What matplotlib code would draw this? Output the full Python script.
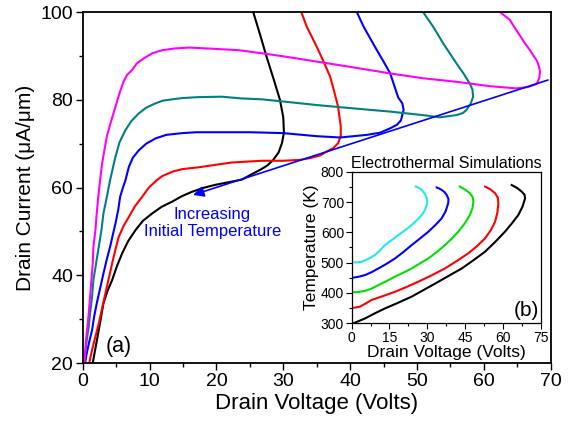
import matplotlib
matplotlib.use("Agg")
import matplotlib.pyplot as plt
from matplotlib.ticker import MultipleLocator

plt.rcParams['font.family'] = ['Liberation Sans', 'DejaVu Sans']

# main panel (a): drain current vs drain voltage, one curve per initial temperature
black_v = [1.5, 2.4, 3.1, 3.7, 4.4, 5.1, 5.9, 6.8, 7.9, 9.0, 10.4, 11.8, 13.4, 14.8, 16.3, 18.0, 19.8, 21.8, 23.8, 25.0, 26.5, 27.6, 28.5, 29.3, 29.8, 30.1, 30.0, 29.5, 28.5, 27.5, 26.5, 25.5]
black_i = [20.0, 27.5, 33.6, 36.4, 38.9, 42.0, 45.0, 47.8, 50.3, 52.4, 54.1, 55.6, 56.8, 58.0, 59.0, 59.9, 60.6, 61.2, 61.8, 62.8, 64.0, 65.0, 66.3, 68.0, 70.1, 72.5, 76.0, 80.0, 85.0, 89.8, 95.0, 100.0]

red_v = [0.9, 1.4, 1.9, 2.4, 2.9, 3.4, 3.9, 4.4, 4.9, 5.4, 6.1, 6.9, 7.8, 8.9, 9.9, 11.1, 11.9, 13.4, 14.9, 17.3, 20.0, 22.3, 26.8, 30.0, 32.5, 34.0, 35.5, 36.5, 37.5, 38.2, 38.6, 38.6, 38.2, 37.6, 37.0, 36.0, 35.0, 33.5, 32.7]
red_i = [19.5, 23.0, 26.0, 29.0, 32.5, 35.9, 39.3, 42.7, 45.9, 48.8, 51.2, 53.3, 55.7, 57.9, 60.0, 61.7, 62.6, 63.6, 64.2, 64.6, 65.2, 65.7, 66.1, 66.1, 66.3, 66.7, 67.3, 68.2, 69.0, 70.1, 71.8, 73.9, 78.4, 82.0, 85.3, 88.8, 92.1, 96.7, 100.0]

blue_v = [0.3, 0.6, 1.0, 1.4, 1.7, 2.1, 2.6, 3.1, 3.6, 4.1, 4.5, 4.9, 5.3, 5.6, 6.0, 6.4, 6.9, 7.5, 8.4, 9.5, 10.9, 12.5, 14.9, 17.0, 19.8, 25.0, 30.0, 35.0, 38.5, 42.5, 44.5, 46.0, 47.0, 47.6, 48.0, 47.8, 47.2, 46.6, 46.0, 45.0, 44.0, 43.0, 42.0, 41.0]
blue_i = [19.5, 22.2, 25.0, 27.5, 30.5, 33.6, 37.0, 40.4, 43.6, 46.5, 49.2, 51.8, 54.8, 57.9, 59.9, 61.7, 64.7, 66.8, 68.5, 70.0, 71.2, 72.0, 72.4, 72.6, 72.6, 72.6, 72.4, 71.7, 71.4, 72.0, 72.5, 73.5, 74.3, 75.3, 77.7, 79.2, 80.5, 83.2, 86.0, 88.7, 91.3, 94.0, 96.7, 100.0]

teal_v = [0.2, 0.6, 0.9, 1.1, 1.4, 1.6, 2.0, 2.4, 2.8, 3.1, 3.5, 3.8, 4.1, 4.5, 4.9, 5.5, 6.4, 7.3, 8.4, 9.5, 10.9, 12.0, 13.4, 15.0, 17.3, 20.8, 23.8, 26.8, 30.0, 35.0, 40.0, 46.0, 50.9, 53.4, 55.9, 56.9, 57.4, 58.0, 58.4, 58.3, 57.9, 57.0, 55.9, 54.9, 53.9, 52.4, 50.9]
teal_i = [19.5, 25.2, 28.3, 31.3, 35.1, 38.9, 42.7, 46.5, 50.3, 54.1, 57.0, 59.4, 61.7, 64.4, 67.0, 70.3, 73.1, 75.2, 76.9, 78.2, 79.2, 79.8, 80.1, 80.4, 80.6, 80.7, 80.3, 80.1, 79.6, 78.8, 78.1, 77.3, 76.5, 76.0, 76.5, 77.0, 77.7, 79.0, 80.7, 82.3, 83.7, 85.9, 88.3, 90.6, 92.9, 96.7, 100.0]

mag_v = [0.2, 0.5, 0.7, 0.9, 1.1, 1.3, 1.5, 1.6, 1.9, 2.1, 2.3, 2.6, 2.9, 3.6, 4.3, 4.9, 5.5, 6.1, 6.6, 7.4, 8.1, 9.1, 10.4, 11.9, 13.8, 15.9, 19.8, 23.3, 26.8, 30.0, 35.0, 40.0, 46.0, 50.9, 55.9, 60.9, 63.2, 64.9, 66.6, 67.9, 68.3, 68.4, 68.2, 67.9, 67.4, 66.9, 66.0, 65.2, 64.5, 63.9, 62.4]
mag_i = [19.5, 25.2, 28.2, 31.3, 35.1, 38.9, 42.7, 46.5, 50.3, 54.1, 57.5, 61.7, 65.5, 71.6, 75.4, 78.4, 81.5, 84.1, 85.6, 86.8, 88.3, 89.4, 90.6, 91.3, 91.7, 91.9, 91.6, 91.3, 90.6, 89.9, 88.7, 87.5, 86.0, 84.9, 84.1, 83.1, 82.8, 82.6, 82.9, 83.6, 85.0, 86.5, 87.8, 89.0, 90.1, 91.3, 93.2, 95.1, 96.7, 98.2, 100.0]

# arrow along the turning points
arrow_tail = (69.6, 84.5)
arrow_tip = (16.5, 58.3)

# inset (b): temperature vs drain voltage
in_cyan_v = [0.0, 2.0, 4.0, 6.5, 9.2, 11.2, 13.2, 15.8, 18.5, 21.2, 23.8, 26.0, 27.8, 29.0, 29.8, 30.0, 29.8, 29.0, 27.8, 26.5, 25.4]
in_cyan_t = [501, 501, 503, 512, 525, 540, 558, 574, 591, 607, 624, 641, 657, 673, 690, 700, 712, 727, 740, 747, 751]
in_blue_v = [0.0, 2.5, 5.3, 8.0, 10.6, 14.0, 17.2, 20.5, 23.8, 27.0, 30.4, 33.2, 35.7, 37.3, 38.3, 38.4, 37.7, 36.8, 35.7, 34.6, 33.7]
in_blue_t = [450, 453, 459, 469, 481, 497, 514, 535, 558, 579, 602, 624, 646, 670, 696, 710, 723, 733, 740, 745, 748]
in_green_v = [0.0, 2.5, 5.3, 8.0, 10.6, 14.0, 17.2, 20.5, 23.8, 27.0, 30.4, 33.8, 37.0, 39.8, 42.3, 44.9, 46.9, 47.9, 48.3, 48.0, 46.9, 45.0, 42.9]
in_green_t = [402, 403, 407, 415, 426, 440, 454, 467, 481, 497, 514, 535, 558, 580, 602, 630, 657, 680, 701, 716, 729, 741, 751]
in_red_v = [0.0, 1.6, 3.3, 5.5, 7.9, 12.5, 17.2, 21.8, 26.4, 31.7, 37.0, 41.8, 46.3, 49.8, 52.9, 55.2, 56.9, 57.8, 58.2, 58.0, 56.9, 55.0, 52.9]
in_red_t = [351, 352, 355, 365, 377, 390, 404, 420, 437, 458, 481, 506, 531, 555, 580, 607, 635, 665, 696, 714, 729, 742, 751]
in_black_v = [0.6, 3.0, 5.3, 9.2, 13.2, 18.5, 23.8, 29.0, 34.4, 39.0, 43.7, 48.3, 52.9, 57.0, 60.8, 63.6, 66.1, 67.8, 68.8, 68.6, 67.5, 65.7, 63.5]
in_black_t = [300, 308, 316, 333, 349, 368, 388, 412, 437, 459, 481, 508, 536, 569, 602, 630, 657, 685, 712, 724, 734, 746, 756]

fig = plt.figure(figsize=(5.74, 4.23), dpi=100)
ax = fig.add_axes([0.1441, 0.1418, 0.8153, 0.8298])

lw = 1.5
ax.plot(black_v, black_i, color='black', lw=lw)
ax.plot(red_v, red_i, color='#ff0000', lw=lw)
ax.plot(blue_v, blue_i, color='#0000ff', lw=lw)
ax.plot(teal_v, teal_i, color='#008080', lw=lw)
ax.plot(mag_v, mag_i, color='#ff00ff', lw=lw)

ax.annotate('', xy=arrow_tip, xytext=arrow_tail,
            arrowprops=dict(arrowstyle='-|>', color='#0000ff', lw=1.2,
                            mutation_scale=16, shrinkA=0, shrinkB=0))
ax.text(19.4, 51.9, 'Increasing\nInitial Temperature', color='#0000ff',
        fontsize=12, ha='center', va='center', linespacing=1.1)
ax.text(5.4, 23.8, '(a)', fontsize=15.5, ha='center', va='center')

ax.set_xlim(0, 70)
ax.set_ylim(20, 100)
ax.xaxis.set_major_locator(MultipleLocator(10))
ax.xaxis.set_minor_locator(MultipleLocator(5))
ax.yaxis.set_major_locator(MultipleLocator(20))
ax.yaxis.set_minor_locator(MultipleLocator(10))
ax.tick_params(which='both', direction='out', width=1, labelsize=14, pad=2)
ax.tick_params(which='major', length=5)
ax.tick_params(which='minor', length=3)
for s in ax.spines.values():
    s.set_linewidth(1.3)
ax.set_xlabel('Drain Voltage (Volts)', fontsize=16, labelpad=2)
ax.set_ylabel('Drain Current (\u03bcA/\u03bcm)', fontsize=15, labelpad=4)

# inset
ins = fig.add_axes([0.6127, 0.2357, 0.3293, 0.3584])
ilw = 1.5
ins.plot(in_cyan_v, in_cyan_t, color='#22e8f0', lw=ilw)
ins.plot(in_blue_v, in_blue_t, color='#0000ff', lw=ilw)
ins.plot(in_green_v, in_green_t, color='#00e000', lw=ilw)
ins.plot(in_red_v, in_red_t, color='#ff0000', lw=ilw)
ins.plot(in_black_v, in_black_t, color='black', lw=ilw)
ins.set_xlim(0, 75)
ins.set_ylim(300, 800)
ins.xaxis.set_major_locator(MultipleLocator(15))
ins.xaxis.set_minor_locator(MultipleLocator(7.5))
ins.yaxis.set_major_locator(MultipleLocator(100))
ins.yaxis.set_minor_locator(MultipleLocator(50))
ins.tick_params(which='both', direction='out', width=0.8, labelsize=10, pad=1.5)
ins.tick_params(which='major', length=4)
ins.tick_params(which='minor', length=2)
for s in ins.spines.values():
    s.set_linewidth(0.9)
ins.set_xlabel('Drain Voltage (Volts)', fontsize=12.5, labelpad=0)
ins.set_ylabel('Temperature (K)', fontsize=12.5, labelpad=1)
ins.set_title('Electrothermal Simulations', fontsize=11.5, pad=3)
ins.text(0.99, 0.02, '(b)', transform=ins.transAxes, fontsize=15, ha='right', va='bottom')

fig.savefig('out.png', dpi=100)
